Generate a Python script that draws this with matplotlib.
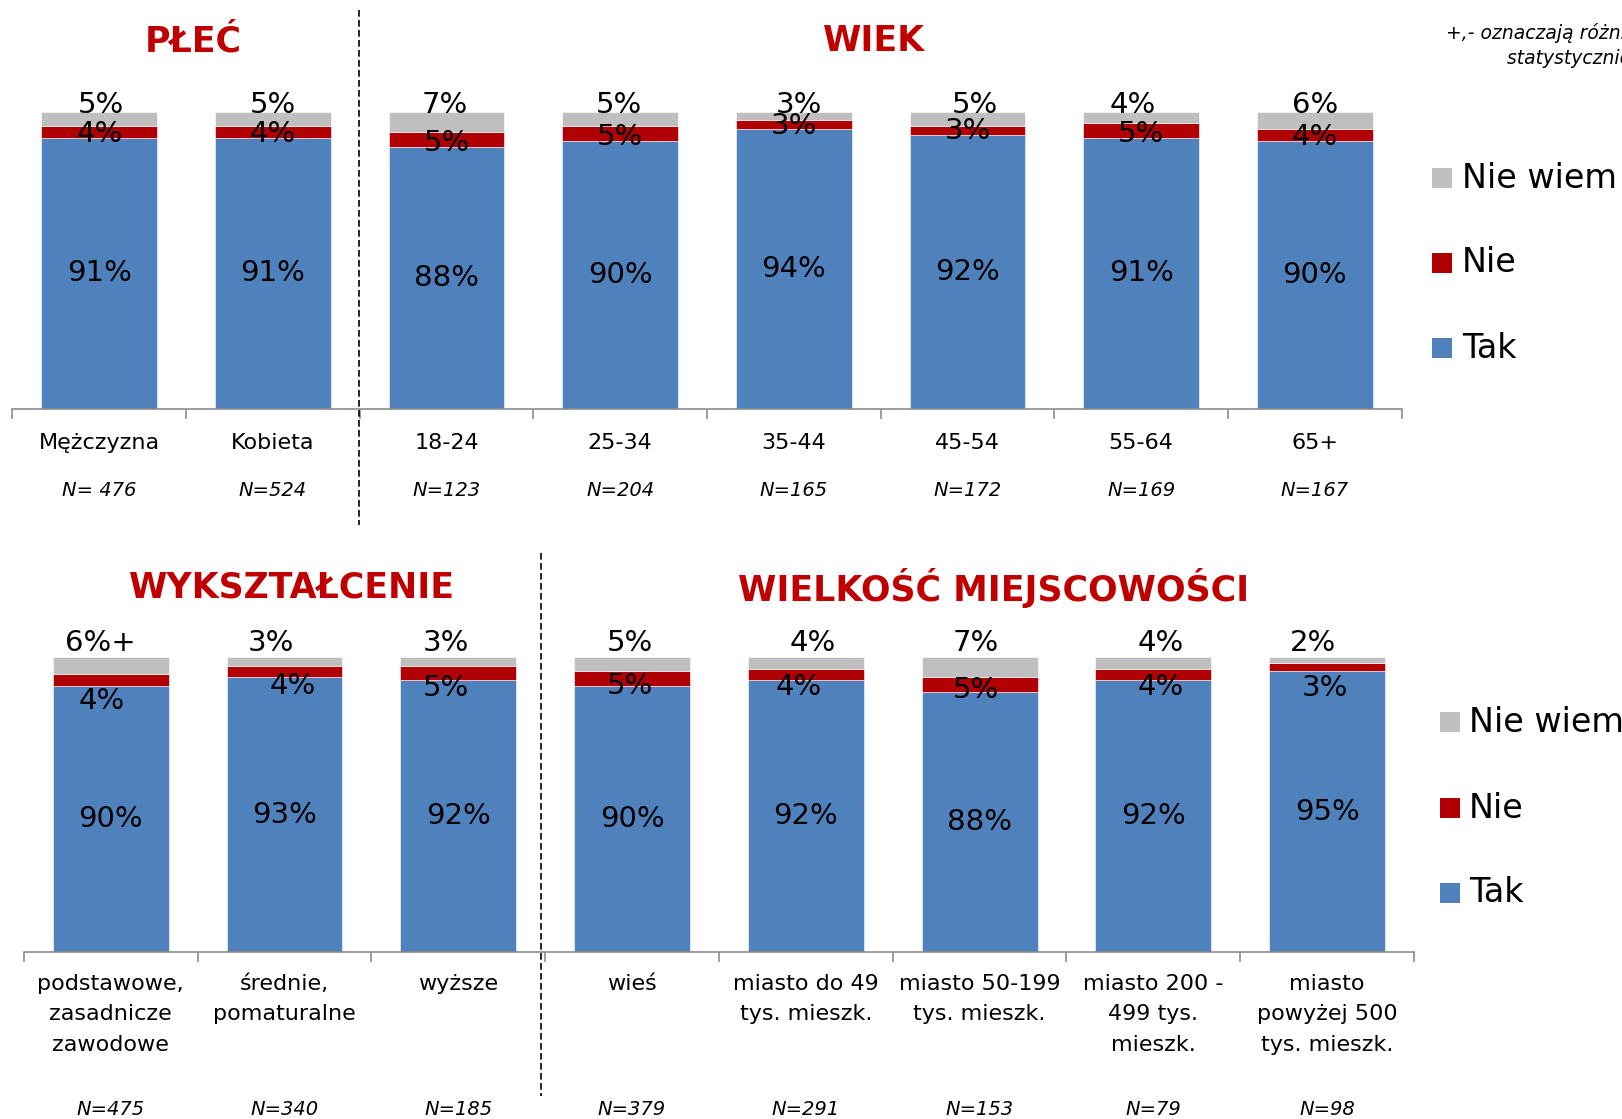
import matplotlib.pyplot as plt
from matplotlib.patches import Rectangle
from matplotlib.lines import Line2D

# --- data -------------------------------------------------------------
top_cats = ['Mężczyzna', 'Kobieta', '18-24', '25-34', '35-44', '45-54', '55-64', '65+']
top_n = ['N= 476', 'N=524', 'N=123', 'N=204', 'N=165', 'N=172', 'N=169', 'N=167']
top_tak = [91, 91, 88, 90, 94, 92, 91, 90]
top_nie = [4, 4, 5, 5, 3, 3, 5, 4]
top_niewiem = [5, 5, 7, 5, 3, 5, 4, 6]
top_marks = ['', '', '', '', '', '', '', '']

bot_cats = ['podstawowe,\nzasadnicze\nzawodowe', 'średnie,\npomaturalne', 'wyższe', 'wieś',
            'miasto do 49\ntys. mieszk.', 'miasto 50-199\ntys. mieszk.',
            'miasto 200 -\n499 tys.\nmieszk.', 'miasto\npowyżej 500\ntys. mieszk.']
bot_n = ['N=475', 'N=340', 'N=185', 'N=379', 'N=291', 'N=153', 'N=79', 'N=98']
bot_tak = [90, 93, 92, 90, 92, 88, 92, 95]
bot_nie = [4, 4, 5, 5, 4, 5, 4, 3]
bot_niewiem = [6, 3, 3, 5, 4, 7, 4, 2]
bot_marks = ['+', '', '', '', '', '', '', '']

legend_labels = ['Nie wiem', 'Nie', 'Tak']

# --- styles / label placement -------------------------------------------
BLUE = '#4F81BD'
RED = '#B00004'
GRAY = '#BFBFBF'
HEAD = '#C00000'
AXC = '#8C8C8C'

plt.rcParams['font.family'] = ['DejaVu Sans']

# label nudges (x in category units, y in data units), as placed in the original
top_gray_dx = [0.01, 0, -0.01, -0.01, 0.03, 0.04, -0.05, 0]
top_gray_y = 102.1
top_red_dx = [0] * 8
bot_gray_dx = [-0.06, -0.08, -0.07, -0.01, 0.04, -0.02, 0.04, -0.08]
bot_gray_y = 104.6
bot_red_dx = [-0.05, 0.05, -0.07, -0.01, -0.04, -0.02, 0.04, -0.01]
bot_red_y = [85, 90.2, 89.5, 90.2, 89.8, 88.8, 89.8, 89.5]

fig = plt.figure(figsize=(16.22, 11.19), dpi=100)


def panel(rect, cats, ns, tak, nie, niewiem, marks, gray_dx, gray_y, red_dx, red_y,
          cat_off, cat_va, n_off):
    ax = fig.add_axes(rect)
    x = list(range(len(cats)))
    ax.bar(x, tak, width=0.667, color=BLUE, edgecolor='white', linewidth=0.4)
    ax.bar(x, nie, width=0.667, bottom=tak, color=RED, edgecolor='white', linewidth=0.4)
    bot2 = [a + b for a, b in zip(tak, nie)]
    ax.bar(x, niewiem, width=0.667, bottom=bot2, color=GRAY, edgecolor='white', linewidth=0.4)

    for i in x:
        ax.text(i, tak[i] / 2, f'{tak[i]}%', ha='center', va='center', fontsize=21)
        ax.text(i + red_dx[i], red_y[i], f'{nie[i]}%', ha='center', va='center', fontsize=21)
        ax.text(i + gray_dx[i], gray_y, f'{niewiem[i]}%{marks[i]}', ha='center', va='center',
                fontsize=21, clip_on=False)
        ax.annotate(cats[i], xy=(i, 0), xycoords=('data', 'axes fraction'),
                    xytext=(0, -cat_off), textcoords='offset pixels', ha='center', va=cat_va,
                    fontsize=16, linespacing=1.65, annotation_clip=False)
        ax.annotate(ns[i], xy=(i, 0), xycoords=('data', 'axes fraction'),
                    xytext=(0, -n_off), textcoords='offset pixels', ha='center', va='center',
                    fontsize=14, style='italic', annotation_clip=False)

    ax.set_xlim(-0.5, len(cats) - 0.5)
    ax.set_ylim(0, 100)
    for s in ['top', 'right', 'left']:
        ax.spines[s].set_visible(False)
    ax.spines['bottom'].set_color(AXC)
    ax.spines['bottom'].set_linewidth(1.2)
    ax.set_yticks([])
    ax.set_xticks([i - 0.5 for i in range(len(cats) + 1)])
    ax.set_xticklabels([])
    ax.tick_params(axis='x', length=7, width=1.2, color=AXC, direction='out')
    return ax


top_red_y = [t + 1.3 for t in top_tak]

panel([0.00765, 0.6349, 0.8565, 0.2654], top_cats, top_n, top_tak, top_nie, top_niewiem,
      top_marks, top_gray_dx, top_gray_y, top_red_dx, top_red_y,
      cat_off=34, cat_va='center', n_off=82)

panel([0.01467, 0.1495, 0.8571, 0.2636], bot_cats, bot_n, bot_tak, bot_nie, bot_niewiem,
      bot_marks, bot_gray_dx, bot_gray_y, bot_red_dx, bot_red_y,
      cat_off=22, cat_va='top', n_off=158)

# section headings
W, H = 1622, 1119
for txt, px, py in [('PŁEĆ', 193, 41), ('WIEK', 874, 41),
                    ('WYKSZTAŁCENIE', 292, 588), ('WIELKOŚĆ MIEJSCOWOŚCI', 994, 588)]:
    fig.text(px / W, 1 - py / H, txt, color=HEAD, fontsize=25, fontweight='bold',
             ha='center', va='center')

# dashed separators
fig.add_artist(Line2D([359 / W, 359 / W], [1 - 10 / H, 1 - 525 / H], transform=fig.transFigure,
                      color='black', linestyle=(0, (4, 2)), linewidth=1.2))
fig.add_artist(Line2D([541 / W, 541 / W], [1 - 553 / H, 1 - 1096 / H], transform=fig.transFigure,
                      color='black', linestyle=(0, (4, 2)), linewidth=1.2))

# note in the top right corner (cut by the page edge in the original)
fig.text(1446 / W, 1 - 33 / H, '+,- oznaczają różnice', fontsize=13.5, style='italic',
         ha='left', va='center')
fig.text(1507 / W, 1 - 58 / H, 'statystycznie istotne', fontsize=13.5, style='italic',
         ha='left', va='center')

# legends
colors = [GRAY, RED, BLUE]
for sx, tx, ys in [(1432, 1462, [178, 263, 348]), (1440, 1469, [722, 808, 893])]:
    for lab, c, yy in zip(legend_labels, colors, ys):
        fig.add_artist(Rectangle((sx / W, 1 - (yy + 10) / H), 20 / W, 20 / H,
                                 transform=fig.transFigure, facecolor=c, edgecolor='none'))
        fig.text(tx / W, 1 - yy / H, lab, fontsize=24, ha='left', va='center')

fig.savefig('out.png', dpi=100)
